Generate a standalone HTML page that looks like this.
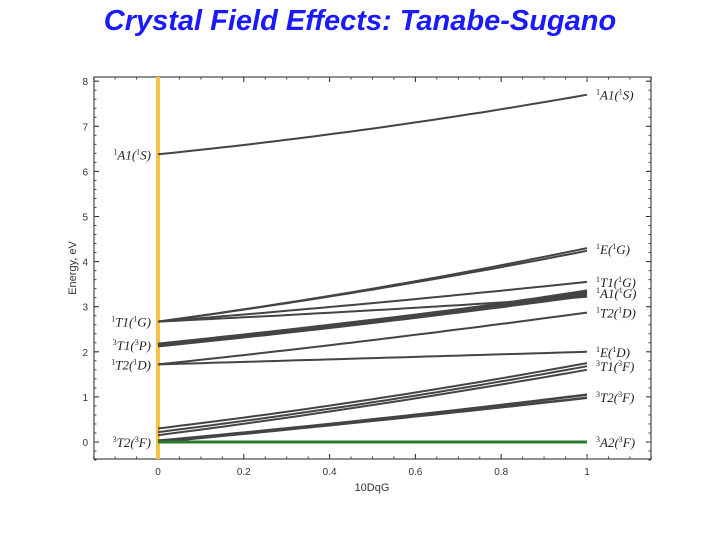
<!DOCTYPE html>
<html><head><meta charset="utf-8"><style>
body{margin:0;background:#fff;width:720px;height:540px;overflow:hidden}
svg{display:block}
</style></head><body>
<svg id="chart" width="720" height="540">
<text x="360" y="30" text-anchor="middle" font-family="Liberation Sans, sans-serif" font-size="29" font-weight="bold" font-style="italic" fill="#1a1aff">Crystal Field Effects: Tanabe-Sugano</text>
<g id="plot"></g>
</svg>
<script>
const xTicks=[0,0.2,0.4,0.6,0.8,1];
const xTickLabels=["0","0.2","0.4","0.6","0.8","1"];
const yTicks=[0,1,2,3,4,5,6,7,8];
const seriesStart=[6.38,2.67,2.67,2.67,2.67,2.15,2.13,2.17,1.72,1.72,0.30,0.22,0.15,0.03,0.0,0.0];
const seriesMid=[6.95,3.40,3.38,3.08,2.92,2.68,2.65,2.70,2.26,1.86,0.95,0.88,0.82,0.50,0.47,0.0];
const seriesEnd=[7.70,4.30,4.24,3.55,3.22,3.35,3.25,3.30,2.87,2.00,1.75,1.68,1.60,1.05,0.98,0.0];
const seriesWidth=[2,2,2,2,2,3,3,3,2,2,2,2,2,2.5,2.5,3];
const leftLabels=[["1","A1(","1","S)",6.38],["1","T1(","1","G)",2.67],["3","T1(","3","P)",2.15],["1","T2(","1","D)",1.72],["3","T2(","3","F)",0.0]];
const rightLabels=[["1","A1(","1","S)",7.7],["1","E(","1","G)",4.28],["1","T1(","1","G)",3.55],["1","A1(","1","G)",3.3],["1","T2(","1","D)",2.87],["1","E(","1","D)",2.0],["3","T1(","3","F)",1.68],["3","T2(","3","F)",1.0],["3","A2(","3","F)",0.0]];
const L=94,R=651,T=77,B=459;
const xs=v=>158+v*429;
const ys=v=>442-v*45.1;
const NS="http://www.w3.org/2000/svg";
const g=document.getElementById('plot');
function mk(t,a){const e=document.createElementNS(NS,t);for(const k in a)e.setAttribute(k,a[k]);g.appendChild(e);return e;}
let fr=mk('rect',{x:L,y:T,width:R-L,height:B-T,fill:'none',stroke:'#222','stroke-width':1});

const F='Liberation Sans, sans-serif';
xTicks.forEach((v,i)=>{
 mk('line',{x1:xs(v),x2:xs(v),y1:B,y2:B-5,stroke:'#222'});
 mk('line',{x1:xs(v),x2:xs(v),y1:T,y2:T+5,stroke:'#222'});
 const t=mk('text',{x:xs(v),y:B+16,'text-anchor':'middle','font-family':F,'font-size':10,fill:'#333'});
 t.textContent=xTickLabels[i];
 
});
for(let v=-0.15;v<1.16;v+=0.05){mk('line',{x1:xs(v),x2:xs(v),y1:B,y2:B-2.5,stroke:'#444'});mk('line',{x1:xs(v),x2:xs(v),y1:T,y2:T+2.5,stroke:'#444'});}
yTicks.forEach(v=>{
 mk('line',{x1:L,x2:L+5,y1:ys(v),y2:ys(v),stroke:'#222'});
 mk('line',{x1:R,x2:R-5,y1:ys(v),y2:ys(v),stroke:'#222'});
 const t=mk('text',{x:L-6,y:ys(v)+4,'text-anchor':'end','font-family':F,'font-size':10,fill:'#333'});
 t.textContent=String(v);
 
});
for(let v=-0.4;v<8.1;v+=0.2){mk('line',{x1:L,x2:L+2.5,y1:ys(v),y2:ys(v),stroke:'#444'});mk('line',{x1:R,x2:R-2.5,y1:ys(v),y2:ys(v),stroke:'#444'});}
let xl=mk('text',{x:372,y:491,'text-anchor':'middle','font-family':F,'font-size':11,fill:'#333'});xl.textContent='10DqG';

let yl=mk('text',{x:0,y:0,'text-anchor':'middle','font-family':F,'font-size':11,fill:'#333',transform:'translate(76,268) rotate(-90)'});yl.textContent='Energy, eV';

let yel=mk('line',{x1:158,x2:158,y1:T,y2:B,stroke:'#f6c24a','stroke-width':4});

seriesStart.forEach((s,i)=>{
 const m=seriesMid[i],e=seriesEnd[i];
 let d='';
 for(let k=0;k<=40;k++){const x=k/40;
  const v=s*(1-x)*(1-2*x)+m*4*x*(1-x)+e*x*(2*x-1);
  d+=(k?'L':'M')+xs(x).toFixed(1)+','+ys(v).toFixed(1);}
 const green=(i===seriesStart.length-1);
 const p=mk('path',{d:d,fill:'none',stroke:green?'#2a7a2a':'#444','stroke-width':seriesWidth[i]});
 
 
});
function lab(arr,x,anchor,name){arr.forEach(a=>{
 const t=mk('text',{x:x,y:ys(a[4])+5,'text-anchor':anchor,'font-family':'Liberation Serif, serif','font-size':13,'font-style':'italic',fill:'#222'});
 t.innerHTML='<tspan font-size="8" dy="-5" font-style="normal">'+a[0]+'</tspan><tspan dy="5">'+a[1]+'</tspan><tspan font-size="8" dy="-5" font-style="normal">'+a[2]+'</tspan><tspan dy="5">'+a[3]+'</tspan>';
 
});}
lab(leftLabels,151,'end','left-state-label');
lab(rightLabels,596,'start','right-state-label');
</script>
</body></html>
